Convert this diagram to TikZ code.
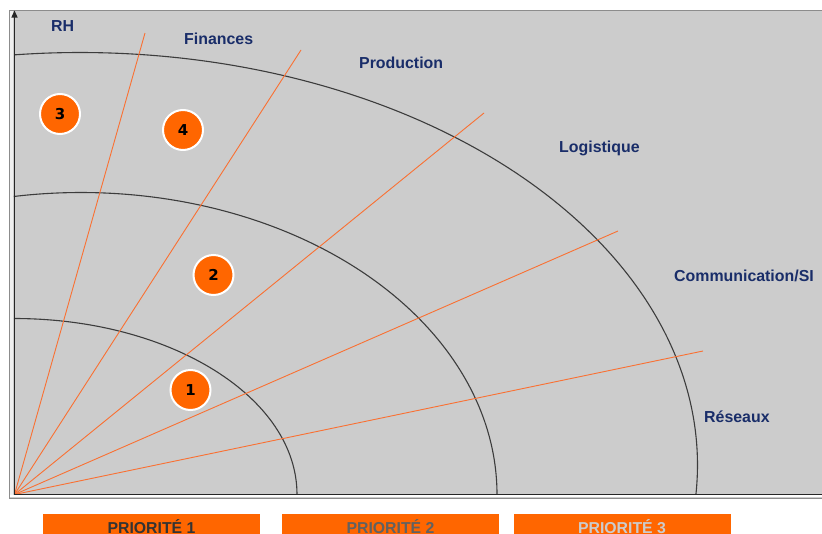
\documentclass[tikz,border=0pt]{standalone}
\usepackage{fontspec}
\setmainfont{Liberation Sans}
\newfontfamily\dejavu{DejaVu Sans}
\usetikzlibrary{arrows.meta}
\definecolor{bg}{RGB}{204,204,204}
\definecolor{frame}{RGB}{140,140,140}
\definecolor{orng}{RGB}{255,102,0}
\definecolor{raycol}{RGB}{250,112,50}
\definecolor{navy}{RGB}{25,45,105}
\definecolor{arccol}{RGB}{60,60,60}
\begin{document}
\begin{tikzpicture}[x=1pt,y=-1pt,
  lab/.style={font=\fontsize{15.9}{18}\selectfont\bfseries, text=navy, inner sep=0pt, anchor=base west},
  num/.style={circle, fill=orng, draw=white, line width=2pt, minimum size=40pt, inner sep=0pt,
              font=\dejavu\fontsize{15}{17}\selectfont\bfseries, text=black},
  bar/.style={fill=orng, inner sep=0pt},
  bartext/.style={font=\fontsize{15.8}{18}\selectfont\bfseries, inner sep=0pt, anchor=base},
  arcline/.style={draw=arccol, line width=1.1pt},
  rayline/.style={draw=raycol, line width=0.9pt}]
\useasboundingbox (0,0) rectangle (822,533);
\clip (0,0) rectangle (822,533);
\fill[white] (0,0) rectangle (822,533);
% plot area
\fill[bg] (9,10) rectangle (822,498);
\fill[white!70!bg] (10,11) rectangle (13,497);
\fill[white] (10,495.3) rectangle (822,497.3);
\draw[frame, line width=1pt] (822,10.5) -- (9,10.5) -- (9,498) -- (822,498);
% origin and ray end points
\coordinate (O) at (14.5,494.5);
\coordinate (yTop) at (14.5,10.5);
\coordinate (xEnd) at (822,494.5);
\coordinate (r1) at (145,33);
\coordinate (r2) at (301,50);
\coordinate (r3) at (484,113);
\coordinate (r4) at (618,231);
\coordinate (r5) at (703,351);
% arcs
\draw[arcline] (297,494.5) arc[start angle=0, end angle=90, x radius=283pt, y radius=176pt];
\draw[arcline] (497,494.5) arc[start angle=0, end angle=99.3, x radius=416pt, y radius=302pt];
\draw[arcline] (80,465) ++(-4.1:617.5pt and 412.5pt) arc[start angle=-4.1, end angle=96.1, x radius=617.5pt, y radius=412.5pt];
% rays
\foreach \r in {r1,r2,r3,r4,r5} \draw[rayline] (O) -- (\r);
% axes
\draw[black!85, line width=1.3pt] (O) -- (xEnd);
\draw[black!85, line width=1.3pt, -{Triangle[length=7pt,width=6pt]}] (O) -- (yTop);
% labels
\node[lab] (RH) at (51,31) {RH};
\node[lab] (fin) at (184,44) {Finances};
\node[lab] (prod) at (359,68.5) {Production};
\node[lab] (logi) at (559,152.5) {Logistique};
\node[lab] (comm) at (674,281) {Communication/SI};
\node[lab] (res) at (704,422) {Réseaux};
% numbered circles
\node[num] (n3) at (60,114) {3};
\node[num] (n4) at (183,130) {4};
\node[num] (n2) at (213.5,275) {2};
\node[num] (n1) at (190.5,390) {1};
% priority bars
\fill[bar] (43,513.5) rectangle (260,545);
\fill[bar] (282,513.5) rectangle (499,545);
\fill[bar] (513.5,513.5) rectangle (731,545);
\node[bartext, text=black!80] (p1) at (151.5,533) {PRIORITÉ 1};
\node[bartext, text=black!62] (p2) at (390.5,533) {PRIORITÉ 2};
\node[bartext, text=black!20] (p3) at (622,533) {PRIORITÉ 3};
\end{tikzpicture}
\end{document}
